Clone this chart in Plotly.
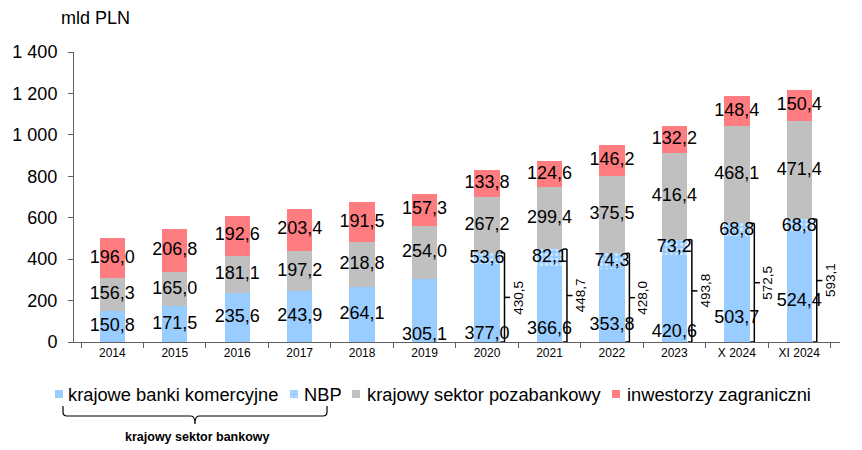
import plotly.graph_objects as go

categories = ["2014", "2015", "2016", "2017", "2018", "2019", "2020", "2021", "2022", "2023", "X 2024", "XI 2024"]
banki_komercyjne = [150.8, 171.5, 235.6, 243.9, 264.1, 305.1, 377.0, 366.6, 353.8, 420.6, 503.7, 524.4]
nbp = [0, 0, 0, 0, 0, 0, 53.6, 82.1, 74.3, 73.2, 68.8, 68.8]
pozabankowy = [156.3, 165.0, 181.1, 197.2, 218.8, 254.0, 267.2, 299.4, 375.5, 416.4, 468.1, 471.4]
zagraniczni = [196.0, 206.8, 192.6, 203.4, 191.5, 157.3, 133.8, 124.6, 146.2, 132.2, 148.4, 150.4]
sektor_bankowy = [None, None, None, None, None, None, 430.5, 448.7, 428.0, 493.8, 572.5, 593.1]
# relative vertical position of the label inside the commercial-bank segment
blue_label_frac = [0.5, 0.5, 0.5, 0.5, 0.5, 0.11, 0.09, 0.16, 0.22, 0.11, 0.23, 0.37]

names = ["krajowe banki komercyjne", "NBP", "krajowy sektor pozabankowy", "inwestorzy zagraniczni"]
C_BLUE = "#99CCFF"
C_GRAY = "#C0C0C0"
C_RED = "#FF7C80"
FONT = "Liberation Sans, Arial, sans-serif"


def fmt(v):
    return f"{v:.1f}".replace(".", ",")


W, H = 862, 450
ML, MR, MT, MB = 74, 22, 52, 108
PW, PH = W - ML - MR, H - MT - MB


def px(x):
    return (x - ML) / PW


def py(y):
    return (H - MB - y) / PH


fig = go.Figure()
fig.add_bar(x=categories, y=banki_komercyjne, name=names[0], marker=dict(color=C_BLUE, line_width=0))
fig.add_bar(x=categories, y=nbp, name=names[1],
            marker=dict(color=C_BLUE, line_width=0,
                        pattern=dict(shape=".", fgcolor="white", bgcolor=C_BLUE, size=5, solidity=0.35)))
fig.add_bar(x=categories, y=pozabankowy, name=names[2], marker=dict(color=C_GRAY, line_width=0))
fig.add_bar(x=categories, y=zagraniczni, name=names[3], marker=dict(color=C_RED, line_width=0))

# value labels
lx, ly, lt = [], [], []
for i, c in enumerate(categories):
    b = banki_komercyjne[i]
    n = nbp[i]
    g = pozabankowy[i]
    r = zagraniczni[i]
    lx.append(c); ly.append(b * blue_label_frac[i]); lt.append(fmt(b))
    if n:
        lx.append(c); ly.append(b + n / 2); lt.append(fmt(n))
    lx.append(c); ly.append(b + n + g / 2); lt.append(fmt(g))
    lx.append(c); ly.append(b + n + g + r / 2); lt.append(fmt(r))
fig.add_scatter(x=lx, y=ly, text=lt, mode="text", textposition="middle center",
                textfont=dict(size=18, color="black", family=FONT),
                showlegend=False, hoverinfo="skip", cliponaxis=False)

# brackets for the banking sector total
for i, tot in enumerate(sektor_bankowy):
    if tot is None:
        continue
    xv = i + 0.28
    line = dict(color="black", width=1.5)
    fig.add_shape(type="line", x0=xv, x1=xv, y0=0, y1=tot, xref="x", yref="y", line=line)
    fig.add_shape(type="line", x0=i + 0.215, x1=xv, y0=tot, y1=tot, xref="x", yref="y", line=line)
    fig.add_shape(type="line", x0=i + 0.215, x1=xv, y0=0, y1=0, xref="x", yref="y", line=line)
    fig.add_shape(type="line", x0=xv, x1=i + 0.37, y0=tot / 2, y1=tot / 2, xref="x", yref="y", line=line)
    fig.add_annotation(x=i + 0.5, y=tot / 2, xref="x", yref="y", text=fmt(tot), textangle=-90,
                       xanchor="center", yanchor="middle",
                       showarrow=False, font=dict(size=13.5, color="black", family=FONT))

# unit label
fig.add_annotation(x=px(95), y=py(18), xref="paper", yref="paper", text="mld PLN", showarrow=False,
                   xanchor="center", yanchor="middle",
                   font=dict(size=18, color="black", family=FONT))

# manual legend
leg_y = 394
leg_items = [(55, 66, 0), (290, 302, 1), (352, 365, 2), (612, 625, 3)]
for mx, tx, k in leg_items:
    fill = [C_BLUE, C_BLUE, C_GRAY, C_RED][k]
    fig.add_shape(type="rect", xref="paper", yref="paper",
                  x0=px(mx), x1=px(mx + 8), y0=py(leg_y + 4), y1=py(leg_y - 4),
                  fillcolor=fill, line_width=0)
    if k == 1:
        for dx in (1.5, 5.5):
            for dy in (-2.5, 1.5):
                fig.add_shape(type="rect", xref="paper", yref="paper",
                              x0=px(mx + dx), x1=px(mx + dx + 1.2), y0=py(leg_y + dy + 1.2), y1=py(leg_y + dy),
                              fillcolor="white", line_width=0)
    fig.add_annotation(x=px(tx), y=py(leg_y), xref="paper", yref="paper", text=names[k],
                       xanchor="left", yanchor="middle", showarrow=False,
                       font=dict(size=18.3, color="black", family=FONT))

# bracket under first two legend entries
xl, xr, xc = px(63), px(327), px(195)
yt, yh, yb = py(406), py(416), py(424)
r = 4
path = (f"M {xl},{yt} L {xl},{py(416 - r)} Q {xl},{yh} {px(63 + r)},{yh} "
        f"L {px(195 - r)},{yh} Q {xc},{yh} {xc},{yb} Q {xc},{yh} {px(195 + r)},{yh} "
        f"L {px(327 - r)},{yh} Q {xr},{yh} {xr},{py(416 - r)} L {xr},{yt}")
fig.add_shape(type="path", path=path, xref="paper", yref="paper", line=dict(color="black", width=1.2))
fig.add_annotation(x=px(197), y=py(437), xref="paper", yref="paper", text="<b>krajowy sektor bankowy</b>",
                   xanchor="center", yanchor="middle",
                   showarrow=False, font=dict(size=12.5, color="black", family=FONT))

fig.update_layout(
    barmode="stack",
    bargap=0.593,
    width=W, height=H,
    margin=dict(l=ML, r=MR, t=MT, b=MB),
    paper_bgcolor="white", plot_bgcolor="white",
    showlegend=False,
    separators=", ",
    font=dict(family=FONT, color="black"),
)
fig.update_xaxes(type="category", showline=True, linecolor="#606060", linewidth=1,
                 ticks="outside", tickson="boundaries", ticklen=5, tickcolor="#606060",
                 tickfont=dict(size=12, color="black", family=FONT), showgrid=False)
fig.update_yaxes(range=[0, 1400], dtick=200, showline=True, linecolor="#606060", linewidth=1,
                 ticks="outside", ticklen=5, tickcolor="#606060", separatethousands=True,
                 tickformat=",d", ticklabelstandoff=7,
                 tickfont=dict(size=18, color="black", family=FONT), showgrid=False, zeroline=False)

fig.write_html("out.html", config={"displayModeBar": False},
               post_script="document.body.style.margin='0';document.body.style.overflow='hidden';")
